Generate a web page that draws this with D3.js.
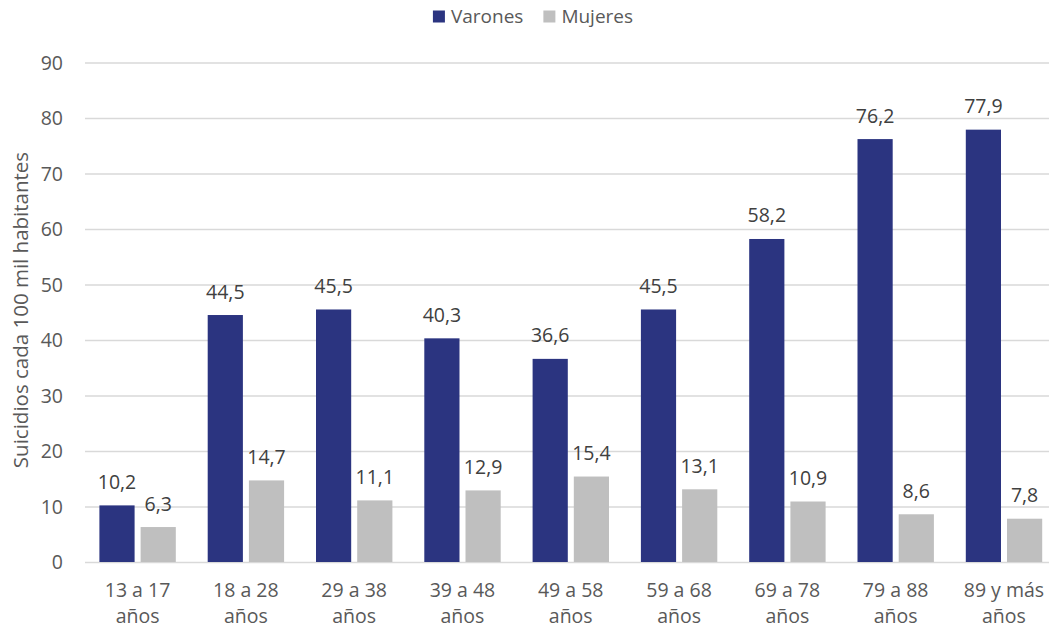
<!DOCTYPE html>
<html>
<head>
<meta charset="utf-8">
<script src="https://cdn.jsdelivr.net/npm/d3@7"></script>
<style>
  html, body { margin: 0; padding: 0; background: #fff; }
  svg { display: block; font-family: "Open Sans", sans-serif; }
</style>
</head>
<body>
<svg id="chart" width="1049" height="628"></svg>
<script>
const categories = ["13 a 17|años", "18 a 28|años", "29 a 38|años", "39 a 48|años", "49 a 58|años",
                    "59 a 68|años", "69 a 78|años", "79 a 88|años", "89 y más|años"];
const seriesNames = ["Varones", "Mujeres"];
const varones = [10.2, 44.5, 45.5, 40.3, 36.6, 45.5, 58.2, 76.2, 77.9];
const mujeres = [6.3, 14.7, 11.1, 12.9, 15.4, 13.1, 10.9, 8.6, 7.8];
const yTicks = [0, 10, 20, 30, 40, 50, 60, 70, 80, 90];
const yTitle = "Suicidios cada 100 mil habitantes";
const colors = {"Varones": "#2b3480", "Mujeres": "#bfbfbf"};

const seriesValues = {"Varones": varones, "Mujeres": mujeres};
const W = 1049, H = 628;
const svg = d3.select("#chart");
const textColor = "#595959";

const y = d3.scaleLinear().domain([0, 90]).range([562, 62.5]);
const step = 108.3, x0start = 83.4;
const x0 = d3.scaleBand().domain(categories).range([x0start, x0start + step * categories.length]).padding(0);
const x1 = d3.scaleBand().domain(seriesNames).range([16, 92.4]).paddingInner(0.146);

const fmt = v => d3.format(".1f")(v).replace(".", ",");

// Y axis with gridlines
const axisX = 85;
const yAxis = d3.axisLeft(y).tickValues(yTicks).tickSize(-(W - axisX)).tickPadding(22).tickFormat(d3.format("d"));
const gy = svg.append("g").attr("transform", `translate(${axisX},0)`).call(yAxis);
gy.select(".domain").remove();
gy.selectAll(".tick line").attr("stroke", "#d9d9d9").attr("stroke-width", 1.3);
gy.selectAll(".tick text").attr("fill", textColor).attr("font-size", 19.5)
  .attr("font-family", "'Open Sans', sans-serif").attr("dy", "0.35em");

// Y title
svg.append("text")
  .attr("transform", `translate(28,310) rotate(-90)`)
  .attr("text-anchor", "middle")
  .attr("fill", textColor).attr("font-size", 20.5)
  .text(yTitle);

// Bars
const groups = svg.append("g").selectAll("g").data(categories).join("g")
  .attr("transform", d => `translate(${x0(d)},0)`);

groups.selectAll("rect")
  .data((d, i) => seriesNames.map(s => ({s, v: seriesValues[s][i]})))
  .join("rect")
  .attr("x", d => x1(d.s))
  .attr("width", x1.bandwidth())
  .attr("y", d => y(d.v))
  .attr("height", d => y(0) - y(d.v))
  .attr("fill", d => colors[d.s]);

groups.selectAll("text.val")
  .data((d, i) => seriesNames.map(s => ({s, v: seriesValues[s][i]})))
  .join("text")
  .attr("class", "val")
  .attr("x", d => x1(d.s) + x1.bandwidth() / 2)
  .attr("y", d => y(d.v) - 16.5)
  .attr("text-anchor", "middle")
  .attr("fill", "#404040").attr("font-size", 19.5)
  .text(d => fmt(d.v));

// X labels
const xl = svg.append("g").selectAll("text").data(categories).join("text")
  .attr("x", d => x0(d) + x0.bandwidth() / 2)
  .attr("text-anchor", "middle")
  .attr("fill", textColor).attr("font-size", 19.5);
xl.each(function(d) {
  const parts = d.split("|");
  const t = d3.select(this);
  parts.forEach((p, i) => {
    t.append("tspan").attr("x", x0(d) + x0.bandwidth() / 2).attr("y", 597 + i * 25.5).text(p);
  });
});

// Legend
const legend = svg.append("g");
let lx = 0;
seriesNames.forEach((s, i) => {
  const g = legend.append("g").attr("transform", `translate(${lx},0)`);
  g.append("rect").attr("x", 0).attr("y", 10.5).attr("width", 12).attr("height", 12).attr("fill", colors[s]);
  const t = g.append("text").attr("x", 18).attr("y", 22.5).attr("fill", textColor).attr("font-size", 19).text(s);
  lx += 18 + t.node().getComputedTextLength() + 20;
});
const lw = lx - 20;
legend.attr("transform", `translate(${533 - lw / 2},0)`);
</script>
</body>
</html>
